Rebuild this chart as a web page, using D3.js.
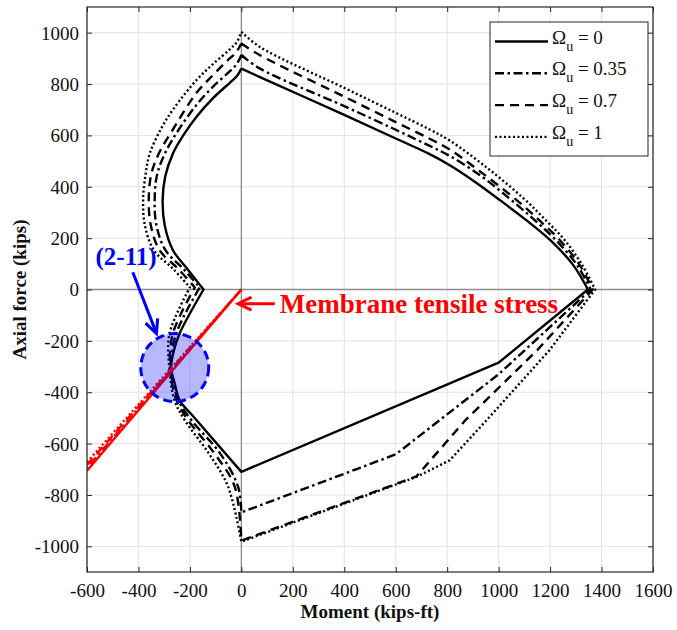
<!DOCTYPE html>
<html>
<head>
<meta charset="utf-8">
<script src="https://cdn.jsdelivr.net/npm/d3@7"></script>
<style>
  body { margin: 0; background: #fff; }
  svg { display: block; }
  svg text { font-family: "Liberation Serif", "Times New Roman", serif; }
</style>
</head>
<body>
<svg id="chart" width="677" height="630"></svg>
<script>
// Axis ticks
const xTicks = [-600, -400, -200, 0, 200, 400, 600, 800, 1000, 1200, 1400, 1600];
const yTicks = [-1000, -800, -600, -400, -200, 0, 200, 400, 600, 800, 1000];

// Shear-ratio values for each interaction curve
const omegaValues = [0, 0.35, 0.7, 1];
const omegaLabels = ["0", "0.35", "0.7", "1"];

// Interaction curves [moment (kips-ft), axial force (kips)], split into pieces
// Upper branch: peak at M = 0 down to the positive-moment tip
const upper0   = [[0, 860], [70, 828], [400, 680], [600, 588], [730, 528], [810, 484], [910, 418], [1005, 348], [1110, 268], [1205, 188], [1290, 95], [1347, 0]];
const upper35  = [[0, 913], [71, 861], [400, 714], [600, 622], [730, 560], [810, 520], [925, 447], [1040, 356], [1140, 270], [1225, 190], [1305, 95], [1358, 0]];
const upper70  = [[0, 958], [71, 913], [400, 751], [600, 652], [730, 588], [810, 545], [930, 458], [1070, 348], [1165, 263], [1240, 190], [1315, 95], [1366, 0]];
const upper100 = [[0, 1003], [71, 945], [400, 785], [600, 688], [730, 624], [810, 580], [960, 470], [1100, 352], [1185, 268], [1257, 192], [1325, 95], [1375, 0]];

// Lower branch (piecewise straight): tip back to the tension end
const lower0   = [[1347, 0], [1000, -285], [0, -710], [-195, -485]];
const lower35  = [[1358, 0], [1000, -330], [600, -642], [0, -868]];
const lower70  = [[1366, 0], [1150, -236], [870, -510], [680, -728], [0, -978]];
const lower100 = [[1375, 0], [1198, -236], [953, -509], [810, -665], [680, -730], [0, -982]];

// Negative-moment tension side up to the nose near P = 0
const tension0   = [[-195, -485], [-240, -431], [-259, -366], [-273, -305], [-262, -236], [-240, -171], [-147, 0]];
const tension35  = [[0, -868], [-13, -767], [-82, -639], [-194, -509], [-245, -431], [-275, -305], [-253, -171], [-162, 8]];
const tension70  = [[0, -978], [-26, -767], [-104, -639], [-207, -509], [-252, -431], [-277, -305], [-266, -171], [-181, 8]];
const tension100 = [[0, -982], [-52, -767], [-126, -639], [-220, -509], [-260, -431], [-280, -305], [-279, -171], [-200, 8]];

// Negative-moment compression side from the nose back to the peak
const comp0   = [[-147, 0], [-210, 80], [-266, 153], [-298, 250], [-306, 348], [-296, 440], [-266, 530], [-222, 606], [-175, 672], [-110, 745], [-45, 805], [-18, 830], [0, 860]];
const comp35  = [[-162, 8], [-225, 80], [-295, 153], [-330, 250], [-337, 348], [-327, 450], [-292, 540], [-245, 620], [-175, 718], [-110, 790], [-45, 850], [-18, 878], [0, 913]];
const comp70  = [[-181, 8], [-245, 80], [-318, 153], [-352, 250], [-360, 348], [-350, 450], [-318, 535], [-268, 620], [-175, 765], [-110, 835], [-58, 888], [-22, 922], [0, 958]];
const comp100 = [[-200, 8], [-265, 80], [-340, 153], [-375, 250], [-382, 348], [-372, 450], [-356, 530], [-310, 630], [-266, 700], [-175, 815], [-110, 878], [-45, 935], [-18, 963], [0, 1003]];

// Membrane tensile stress lines: from the origin to M = -600
const membraneEndP = [-706, -694, -683, -672];

// Highlighted point (2-11)
const highlightPoint = [-259, -304];

const dashStyles = [null, "9,3.5,2.5,3.5", "9,6", "2,2.5"];

const curves = [
  { upper: upper0,   lower: lower0,   tension: tension0,   comp: comp0 },
  { upper: upper35,  lower: lower35,  tension: tension35,  comp: comp35 },
  { upper: upper70,  lower: lower70,  tension: tension70,  comp: comp70 },
  { upper: upper100, lower: lower100, tension: tension100, comp: comp100 }
].map((c, i) => Object.assign(c, { omega: omegaValues[i], label: omegaLabels[i], dash: dashStyles[i] }));

const SERIF = "'Liberation Serif', 'Times New Roman', serif";

const svg = d3.select("#chart");
const margin = { left: 87, right: 653, top: 7, bottom: 572 };

const x = d3.scaleLinear().domain([-600, 1600]).range([margin.left, margin.right]);
const y = d3.scaleLinear().domain([-1100, 1100]).range([margin.bottom, margin.top]);

svg.append("defs").append("clipPath").attr("id", "plotClip")
  .append("rect")
  .attr("x", margin.left).attr("y", margin.top)
  .attr("width", margin.right - margin.left).attr("height", margin.bottom - margin.top);

// Grid
const grid = svg.append("g");
grid.selectAll(".gx").data(xTicks).join("line")
  .attr("x1", d => x(d)).attr("x2", d => x(d))
  .attr("y1", margin.top).attr("y2", margin.bottom)
  .attr("stroke", "#e3e3e3").attr("stroke-width", 1);
grid.selectAll(".gy").data(yTicks).join("line")
  .attr("x1", margin.left).attr("x2", margin.right)
  .attr("y1", d => y(d)).attr("y2", d => y(d))
  .attr("stroke", "#e3e3e3").attr("stroke-width", 1);

// Zero reference lines
grid.append("line")
  .attr("x1", x(0)).attr("x2", x(0)).attr("y1", margin.top).attr("y2", margin.bottom)
  .attr("stroke", "#8c8c8c").attr("stroke-width", 1.3);
grid.append("line")
  .attr("x1", margin.left).attr("x2", margin.right).attr("y1", y(0)).attr("y2", y(0))
  .attr("stroke", "#8c8c8c").attr("stroke-width", 1.3);

// Axes (ticks pointing inward, labels outside)
const fmt = d => String(d);
const xAxis = d3.axisBottom(x).tickValues(xTicks).tickSize(-5).tickFormat(fmt);
const yAxis = d3.axisLeft(y).tickValues(yTicks).tickSize(-5).tickFormat(fmt);

const gx = svg.append("g").attr("transform", `translate(0,${margin.bottom})`).call(xAxis);
const gy = svg.append("g").attr("transform", `translate(${margin.left},0)`).call(yAxis);
svg.append("g").attr("transform", `translate(0,${margin.top})`)
  .call(d3.axisTop(x).tickValues(xTicks).tickSize(-5).tickFormat(""));
svg.append("g").attr("transform", `translate(${margin.right},0)`)
  .call(d3.axisRight(y).tickValues(yTicks).tickSize(-5).tickFormat(""));

svg.selectAll(".domain").remove();
svg.selectAll(".tick line").attr("stroke", "#262626").attr("stroke-width", 1);
gx.attr("font-family", null);
gy.attr("font-family", null);
gx.selectAll(".tick text")
  .attr("y", 12).attr("dy", "0.71em")
  .attr("font-size", 19).attr("fill", "#111")
  .style("font-family", SERIF);
gy.selectAll(".tick text")
  .attr("x", -8).attr("dy", "0.34em")
  .attr("font-size", 19).attr("fill", "#111")
  .style("font-family", SERIF);

// Curve paths: pieces are chained into one continuous path
function chainPath(pieces) {
  const p = d3.path();
  let started = false;
  const ctx = {
    moveTo(a, b) { if (!started) { p.moveTo(a, b); started = true; } else p.lineTo(a, b); },
    lineTo(a, b) { p.lineTo(a, b); },
    bezierCurveTo(a, b, c, d, e, f) { p.bezierCurveTo(a, b, c, d, e, f); },
    closePath() { p.closePath(); }
  };
  pieces.forEach(([pts, curve]) => {
    d3.line().x(d => x(d[0])).y(d => y(d[1])).curve(curve).context(ctx)(pts);
  });
  return p.toString();
}

const smooth = d3.curveCatmullRom.alpha(0.5);
const plot = svg.append("g").attr("clip-path", "url(#plotClip)");

curves.forEach(c => {
  plot.append("path")
    .attr("d", chainPath([
      [c.upper, smooth],
      [c.lower, d3.curveLinear],
      [c.tension, smooth],
      [c.comp, smooth]
    ]))
    .attr("fill", "none")
    .attr("stroke", "#000")
    .attr("stroke-width", 2.4)
    .attr("stroke-linejoin", "round")
    .attr("stroke-dasharray", c.dash);
});

// Membrane tensile stress lines
membraneEndP.forEach((pEnd, i) => {
  plot.append("line")
    .attr("x1", x(0)).attr("y1", y(0))
    .attr("x2", x(-600)).attr("y2", y(pEnd))
    .attr("stroke", "#ff0000")
    .attr("stroke-width", 2.4)
    .attr("stroke-dasharray", dashStyles[i]);
});

// Highlight circle
plot.append("circle")
  .attr("cx", x(highlightPoint[0])).attr("cy", y(highlightPoint[1]))
  .attr("r", 34)
  .attr("fill", "#0000ff").attr("fill-opacity", 0.28)
  .attr("stroke", "#0000ff").attr("stroke-width", 3)
  .attr("stroke-dasharray", "9,5");

// Open-headed arrow helper
function arrow(g, from, to, color) {
  const x1 = x(from[0]), y1 = y(from[1]), x2 = x(to[0]), y2 = y(to[1]);
  const ang = Math.atan2(y2 - y1, x2 - x1);
  const len = 15, spread = 0.45;
  g.append("line").attr("x1", x1).attr("y1", y1).attr("x2", x2).attr("y2", y2)
    .attr("stroke", color).attr("stroke-width", 3);
  g.append("path")
    .attr("d", `M${x2 - len * Math.cos(ang - spread)},${y2 - len * Math.sin(ang - spread)}L${x2},${y2}L${x2 - len * Math.cos(ang + spread)},${y2 - len * Math.sin(ang + spread)}`)
    .attr("fill", "none").attr("stroke", color).attr("stroke-width", 3)
    .attr("stroke-linejoin", "miter");
}

const notes = svg.append("g");
arrow(notes, [-422, 67], [-330, -171], "#0000ff");
notes.append("text")
  .attr("x", x(-448)).attr("y", y(95))
  .attr("text-anchor", "middle")
  .attr("font-size", 25).attr("font-weight", "bold").attr("fill", "#0000ff")
  .style("font-family", SERIF)
  .text("(2-11)");

arrow(notes, [130, -55], [-13, -55], "#ff0000");
notes.append("text")
  .attr("x", x(149)).attr("y", y(-92))
  .attr("font-size", 27).attr("font-weight", "bold").attr("fill", "#ff0000")
  .style("font-family", SERIF)
  .text("Membrane tensile stress");

// Frame
svg.append("rect")
  .attr("x", margin.left).attr("y", margin.top)
  .attr("width", margin.right - margin.left).attr("height", margin.bottom - margin.top)
  .attr("fill", "none").attr("stroke", "#262626").attr("stroke-width", 1.2);

// Axis titles
svg.append("text")
  .attr("x", (margin.left + margin.right) / 2).attr("y", 618)
  .attr("text-anchor", "middle")
  .attr("font-size", 19).attr("font-weight", "bold").attr("fill", "#111")
  .style("font-family", SERIF)
  .text("Moment (kips-ft)");
svg.append("text")
  .attr("transform", `translate(26,${(margin.top + margin.bottom) / 2}) rotate(-90)`)
  .attr("text-anchor", "middle")
  .attr("font-size", 19).attr("font-weight", "bold").attr("fill", "#111")
  .style("font-family", SERIF)
  .text("Axial force (kips)");

// Legend
const legend = svg.append("g");
legend.append("rect")
  .attr("x", 490).attr("y", 22).attr("width", 158).attr("height", 134)
  .attr("fill", "#fff").attr("stroke", "#262626").attr("stroke-width", 1);
curves.forEach((c, i) => {
  const ly = 41.5 + i * 31.8;
  legend.append("line")
    .attr("x1", 495).attr("x2", 548).attr("y1", ly).attr("y2", ly)
    .attr("stroke", "#000").attr("stroke-width", 2.4)
    .attr("stroke-dasharray", c.dash);
  const t = legend.append("text")
    .attr("x", 552).attr("y", ly + 2)
    .attr("font-size", 19).attr("fill", "#111")
    .style("font-family", SERIF);
  t.append("tspan").text("Ω");
  t.append("tspan").attr("font-size", 14).attr("dy", 7).text("u");
  t.append("tspan").attr("dy", -7).text(" = " + c.label);
});
</script>
</body>
</html>
